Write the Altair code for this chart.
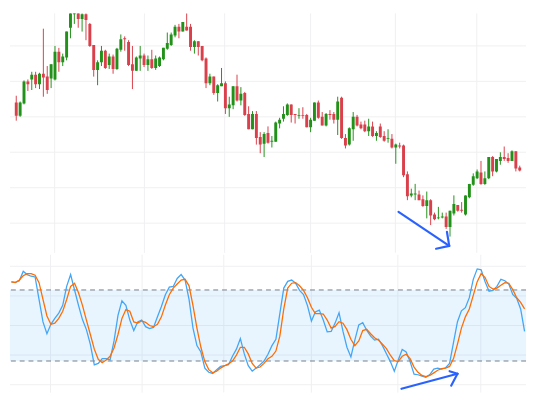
import altair as alt
import pandas as pd

# ---------------- data ----------------
opens = [207,193,206,229,231,236,226,237,234,232,
         231,260,249,254,285,299,308,294,299,289,
         267,241,249,261,246,255,242,262,274,270,
         247,240,253,256,246,252,243,245,252,263,
         267,277,286,281,286,286,265,271,266,253,
         227,234,217,224,227,201,204,224,209,217,
         195,179,195,171,164,175,166,166,185,190,
         194,205,195,193,194,194,181,188,207,192,
         183,195,195,189,212,170,163,179,192,184,
         184,177,182,172,182,172,169,169,160,162,
         162,132,110,111,111,106,99,105,90,86,
         87,88,77,91,100,95,90,108,121,128,
         134,122,128,150,135,146,150,149,146,156,139]
highs = [214,208,230,231,239,239,238,284,245,247,
         266,264,258,281,308,314,312,304,306,290,
         267,251,266,262,258,257,264,278,276,272,
         266,255,266,258,256,262,256,255,264,280,
         280,288,289,291,303,289,272,271,266,254,
         237,234,226,243,229,213,224,236,223,218,
         203,198,198,176,176,182,172,187,191,203,
         206,205,195,201,202,195,191,207,209,197,
         196,199,197,213,213,174,181,197,194,187,
         188,190,187,177,185,177,179,174,164,165,
         163,135,117,122,115,110,114,106,92,98,
         92,92,94,110,100,103,110,122,133,137,
         146,135,150,151,148,155,161,154,157,156,141]
lows = [188,192,205,219,220,222,221,213,216,222,
        230,239,245,251,274,289,285,281,272,265,
        234,225,245,242,242,237,241,260,261,245,
        221,240,240,244,240,242,241,244,251,262,
        266,275,274,281,282,261,258,256,250,222,
        225,215,208,224,195,192,200,208,204,193,
        179,179,163,154,150,164,160,166,180,187,
        193,186,185,190,190,181,176,188,190,183,
        182,189,185,173,169,159,162,167,182,179,
        176,172,171,167,170,166,165,159,143,159,
        129,105,108,105,105,98,86,79,84,85,
        86,75,67,89,93,92,89,107,120,127,
        121,121,127,130,134,142,146,144,146,135,135]
closes = [193,207,229,226,236,226,237,233,220,247,
          260,249,255,281,303,310,294,299,293,266,
          241,249,261,243,255,242,263,273,273,246,
          240,254,256,246,252,243,253,254,264,269,
          278,286,281,291,282,265,271,265,251,227,
          234,217,225,227,201,205,224,209,216,194,
          179,195,170,163,174,165,167,186,189,195,
          205,194,194,194,193,181,189,207,191,183,
          195,194,189,208,170,162,180,192,183,180,
          177,182,172,175,171,167,170,160,163,161,
          131,109,112,112,105,99,105,89,85,87,
          88,77,94,101,94,94,110,122,130,135,
          122,128,150,135,148,150,148,146,156,138,136]

k_values = [86.8,86.5,87.8,95.7,93,91.6,91,72,53,43,
            51,56,60.5,67,83,93,80,67,55,46.5,
            34,16.8,18,22,22,21,37,58.6,70.8,67,
            54.6,45.7,53,54.6,49,47.3,48.4,57.3,66,76,
            82.4,83,89.7,93,88.4,72,47.8,33,27.6,14,
            10.5,9.5,12.7,15.4,16.2,16.8,24,30,39,26,
            16,11.4,14,16.8,20,25.7,33,38.4,60,81.6,
            87.3,88.4,85.7,79.7,76.2,66.8,53.8,61.4,63,54.6,
            44.6,45,52,60.8,45,31.6,23.5,37.6,50.5,52.4,
            46,41,37.6,38.4,33,26.2,19.5,11.4,20.8,29.7,
            27.6,19.5,8.9,8.4,7.3,6.2,8.6,13.2,14,13.2,
            14.3,18,35.7,53.2,62.4,65,73.5,89,97.8,97,
            87,79,79.7,83,89,87.8,85,76.2,73,64,45]
d_values = [86.8,86.2,88.4,92,93.8,93.8,92.4,86.2,72,58,
            51,52,56,62,72,83,85.7,77.6,67,54.6,
            42.4,30,21.4,18.6,20.8,24,31,42.4,56,63.5,
            62,53,52,53.8,52.7,50,49,51,57.3,67.3,
            76,81.6,85,88.4,89,83.5,66.8,47.8,31.6,19.5,
            12.7,10,11.4,14,16,17.6,20,25,31.6,31.6,
            26,18,14,14.9,18,22,24,28.4,41,64,
            81.6,85.7,86.2,83.5,79.7,73.5,65.4,60,60,59.7,
            54.6,47.8,49.2,53.2,51.9,46.5,38.4,33,37,45.7,
            46.8,43,39.7,37.6,34.3,30.5,24.9,20.3,19.5,24,
            25.7,22,14.9,10.5,7.8,6.8,7.8,10,12.2,13.5,
            14,15.4,22,34.3,47.8,57.3,64,75.4,87,93.8,
            90.5,83,80.8,81.6,84,86.2,85.7,80.3,73.5,69.5,64]

price_grid = [266, 229, 192, 155, 118, 81]
time_grid = [9.9, 33.1, 53.8, 76.0, 97.9, 118.9]
stoch_grid = [100, 75, 50, 25, 0]
band_levels = [80, 20]

# drawn arrows (bar index, value)
price_arrow_x1 = [98.7, 111.8, 111.8]
price_arrow_y1 = [92.7, 57.3, 57.3]
price_arrow_x2 = [111.8, 108.4, 111.2]
price_arrow_y2 = [57.3, 54.3, 72.0]
stoch_arrow_x1 = [98.8, 113.0, 113.0]
stoch_arrow_y1 = [-3.5, 9.2, 9.2]
stoch_arrow_x2 = [113.0, 111.0, 111.4]
stoch_arrow_y2 = [9.2, 11.4, -0.8]

# ---------------- frames ----------------
n = len(opens)
candles = pd.DataFrame({
    "i": list(range(n)), "open": opens, "high": highs,
    "low": lows, "close": closes,
})
candles["dir"] = ["up" if c >= o else "down" for o, c in zip(opens, closes)]
stoch = pd.DataFrame({"i": list(range(n)), "k": k_values, "d": d_values})

W = 528
H_TOP = 245
H_BOT = 141
GRID = "#f0f0f2"
GREEN = "#22911a"
RED = "#d9404b"
ARROW = "#2962ff"

xs = alt.Scale(domain=[-0.366, 130.37], nice=False, zero=False)
ys_top = alt.Scale(domain=[50, 300], nice=False, zero=False)
ys_bot = alt.Scale(domain=[-6.7, 109.7], nice=False, zero=False)
col = alt.Scale(domain=["up", "down"], range=[GREEN, RED])

vgrid_df = pd.DataFrame({"t": time_grid})

# ---------------- top panel ----------------
t_vgrid = alt.Chart(vgrid_df).mark_rule(color=GRID, strokeWidth=1).encode(
    x=alt.X("t:Q", scale=xs, axis=None))
t_hgrid = alt.Chart(pd.DataFrame({"p": price_grid})).mark_rule(
    color=GRID, strokeWidth=1).encode(
    y=alt.Y("p:Q", scale=ys_top, axis=None))
wicks = alt.Chart(candles).mark_rule(strokeWidth=1, clip=True).encode(
    x=alt.X("i:Q", scale=xs, axis=None),
    y=alt.Y("low:Q", scale=ys_top, axis=None),
    y2="high:Q",
    color=alt.Color("dir:N", scale=col, legend=None))
bodies = alt.Chart(candles).mark_bar(size=3, clip=True).encode(
    x=alt.X("i:Q", scale=xs, axis=None),
    y=alt.Y("open:Q", scale=ys_top, axis=None),
    y2="close:Q",
    color=alt.Color("dir:N", scale=col, legend=None))
parr = alt.Chart(pd.DataFrame({"x1": price_arrow_x1, "y1": price_arrow_y1,
                               "x2": price_arrow_x2, "y2": price_arrow_y2})).mark_rule(
    color=ARROW, strokeWidth=2.2, strokeCap="round").encode(
    x=alt.X("x1:Q", scale=xs, axis=None), x2="x2:Q",
    y=alt.Y("y1:Q", scale=ys_top, axis=None), y2="y2:Q")

top = alt.layer(t_vgrid, t_hgrid, wicks, bodies, parr).properties(
    width=W, height=H_TOP)

# ---------------- bottom panel ----------------
b_vgrid = alt.Chart(vgrid_df).mark_rule(color=GRID, strokeWidth=1).encode(
    x=alt.X("t:Q", scale=xs, axis=None))
b_hgrid = alt.Chart(pd.DataFrame({"s": stoch_grid})).mark_rule(
    color=GRID, strokeWidth=1).encode(
    y=alt.Y("s:Q", scale=ys_bot, axis=None))
band = alt.Chart(pd.DataFrame({"hi": [band_levels[0]], "lo": [band_levels[1]]})).mark_rect(
    color="#2196f3", opacity=0.1).encode(
    y=alt.Y("hi:Q", scale=ys_bot, axis=None), y2="lo:Q")
levels = alt.Chart(pd.DataFrame({"lv": band_levels})).mark_rule(
    color="#787b86", strokeWidth=1, strokeDash=[5, 4]).encode(
    y=alt.Y("lv:Q", scale=ys_bot, axis=None))
kline = alt.Chart(stoch).mark_line(color="#42a5f5", strokeWidth=1.3).encode(
    x=alt.X("i:Q", scale=xs, axis=None),
    y=alt.Y("k:Q", scale=ys_bot, axis=None))
dline = alt.Chart(stoch).mark_line(color="#ff6d00", strokeWidth=1.3).encode(
    x=alt.X("i:Q", scale=xs, axis=None),
    y=alt.Y("d:Q", scale=ys_bot, axis=None))
sarr = alt.Chart(pd.DataFrame({"x1": stoch_arrow_x1, "y1": stoch_arrow_y1,
                               "x2": stoch_arrow_x2, "y2": stoch_arrow_y2})).mark_rule(
    color=ARROW, strokeWidth=2.2, strokeCap="round").encode(
    x=alt.X("x1:Q", scale=xs, axis=None), x2="x2:Q",
    y=alt.Y("y1:Q", scale=ys_bot, axis=None), y2="y2:Q")

bottom = alt.layer(b_vgrid, b_hgrid, band, levels, kline, dline, sarr).properties(
    width=W, height=H_BOT)

chart = alt.vconcat(top, bottom, spacing=0).properties(
    padding=0, background="white").configure_view(stroke=None)

chart.save("out.html", embed_options={"renderer": "svg", "actions": False})
